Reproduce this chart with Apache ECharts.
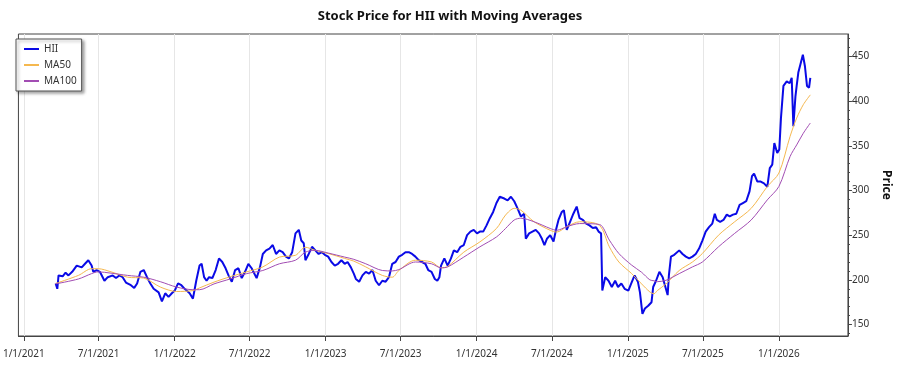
<!DOCTYPE html>
<html>
<head>
<meta charset="utf-8">
<script src="https://cdn.jsdelivr.net/npm/echarts@6/dist/echarts.min.js"></script>
<style>
  html, body { margin: 0; padding: 0; background: #fff; }
  #main { width: 900px; height: 375px; }
</style>
</head>
<body>
<div id="main"></div>
<script>
// HII close price (roughly weekly)
var priceDates = [
  '2021-03-19','2021-03-23','2021-03-26','2021-04-05','2021-04-12','2021-04-19','2021-04-28','2021-05-09','2021-05-21','2021-05-29',
  '2021-06-06','2021-06-14','2021-06-18','2021-06-26','2021-07-04','2021-07-15','2021-07-23','2021-08-04','2021-08-12','2021-08-20',
  '2021-08-28','2021-09-05','2021-09-17','2021-09-25','2021-10-02','2021-10-10','2021-10-18','2021-10-26','2021-11-03','2021-11-11',
  '2021-11-23','2021-12-01','2021-12-09','2021-12-17','2021-12-25','2022-01-01','2022-01-09','2022-01-17','2022-01-25','2022-02-06',
  '2022-02-14','2022-02-22','2022-03-02','2022-03-07','2022-03-13','2022-03-19','2022-03-25','2022-04-02','2022-04-10','2022-04-18',
  '2022-04-26','2022-05-04','2022-05-11','2022-05-19','2022-05-27','2022-06-04','2022-06-12','2022-06-20','2022-06-28','2022-07-06',
  '2022-07-18','2022-07-26','2022-08-02','2022-08-10','2022-08-18','2022-08-26','2022-09-03','2022-09-11','2022-09-19','2022-09-27',
  '2022-10-04','2022-10-12','2022-10-20','2022-10-28','2022-11-03','2022-11-09','2022-11-13','2022-11-21','2022-11-29','2022-12-07',
  '2022-12-15','2022-12-23','2022-12-30','2023-01-07','2023-01-15','2023-01-23','2023-01-31','2023-02-08','2023-02-16','2023-02-23',
  '2023-03-03','2023-03-10','2023-03-15','2023-03-23','2023-03-31','2023-04-08','2023-04-16','2023-04-24','2023-05-02','2023-05-10',
  '2023-05-18','2023-05-26','2023-06-03','2023-06-11','2023-06-19','2023-06-27','2023-07-05','2023-07-13','2023-07-21','2023-07-29',
  '2023-08-06','2023-08-14','2023-08-22','2023-08-30','2023-09-06','2023-09-14','2023-09-22','2023-09-28','2023-10-03','2023-10-07',
  '2023-10-15','2023-10-23','2023-10-31','2023-11-07','2023-11-15','2023-11-23','2023-12-01','2023-12-09','2023-12-17','2023-12-25',
  '2024-01-02','2024-01-09','2024-01-17','2024-01-25','2024-02-02','2024-02-10','2024-02-18','2024-02-26','2024-03-01','2024-03-08',
  '2024-03-16','2024-03-24','2024-04-01','2024-04-09','2024-04-17','2024-04-25','2024-04-29','2024-05-07','2024-05-15','2024-05-23',
  '2024-05-31','2024-06-07','2024-06-13','2024-06-19','2024-06-27','2024-07-05','2024-07-11','2024-07-17','2024-07-25','2024-07-30',
  '2024-08-06','2024-08-14','2024-08-22','2024-08-30','2024-09-06','2024-09-14','2024-09-22','2024-09-30','2024-10-08','2024-10-16',
  '2024-10-22','2024-10-28','2024-10-31','2024-11-07','2024-11-15','2024-11-23','2024-12-01','2024-12-08','2024-12-16','2024-12-24',
  '2025-01-02','2025-01-09','2025-01-17','2025-01-25','2025-01-30','2025-02-05','2025-02-11','2025-02-19','2025-02-27','2025-03-03',
  '2025-03-10','2025-03-18','2025-03-26','2025-04-07','2025-04-10','2025-04-15','2025-04-23','2025-05-05','2025-05-13','2025-05-21',
  '2025-05-29','2025-06-06','2025-06-14','2025-06-22','2025-06-30','2025-07-08','2025-07-16','2025-07-24','2025-07-30','2025-08-04',
  '2025-08-12','2025-08-20','2025-08-28','2025-09-04','2025-09-12','2025-09-20','2025-09-28','2025-10-06','2025-10-14','2025-10-22',
  '2025-10-28','2025-11-02','2025-11-10','2025-11-18','2025-11-26','2025-12-04','2025-12-10','2025-12-16','2025-12-21','2025-12-28',
  '2026-01-02','2026-01-06','2026-01-12','2026-01-20','2026-01-27','2026-02-01','2026-02-05','2026-02-10','2026-02-13','2026-02-17',
  '2026-02-22','2026-02-28','2026-03-05','2026-03-10','2026-03-15','2026-03-18'
];
var hiiPrice = [
  196,190,205,204,208,205,209,216,214,218,
  222,216,209,211,209,199,203,205,202,205,
  203,197,194,191,196,209,211,203,196,190,
  186,176,185,181,185,188,196,194,190,185,
  179,199,216,218,203,199,203,202,211,224,
  220,213,205,198,211,213,202,209,218,213,
  202,214,229,233,235,239,229,233,231,226,
  224,231,252,256,244,241,222,229,237,233,
  229,231,228,226,220,216,218,222,218,220,
  214,207,201,198,205,209,207,211,199,194,
  199,198,203,218,220,226,228,231,231,229,
  226,222,220,218,211,209,201,199,203,216,
  224,216,224,233,231,237,239,250,254,256,
  252,254,254,261,269,276,286,293,295,291,
  289,293,288,280,271,274,246,252,254,256,
  252,246,239,246,250,243,256,267,276,278,
  256,265,274,282,269,267,263,261,258,259,
  254,252,188,203,199,192,199,192,196,190,
  188,196,205,198,186,162,168,171,175,192,
  199,209,203,183,205,226,228,233,229,226,
  224,226,229,235,244,254,259,263,274,267,
  265,267,273,271,273,274,284,286,288,299,
  316,319,310,310,308,304,325,329,353,342,
  346,381,417,422,420,426,372,405,417,432,
  441,452,439,417,415,426
];

// moving averages (coarser steps)
var maDates = [
  '2021-03-19','2021-05-13','2021-06-14','2021-06-30','2021-07-31','2021-09-09','2021-10-18','2021-11-27','2022-01-05','2022-02-14',
  '2022-03-02','2022-04-06','2022-05-15','2022-06-24','2022-08-02','2022-09-11','2022-10-20','2022-11-13','2022-12-07','2023-01-07',
  '2023-02-16','2023-03-10','2023-04-08','2023-05-18','2023-06-11','2023-06-27','2023-08-06','2023-09-14','2023-10-07','2023-10-23',
  '2023-12-01','2024-01-09','2024-02-18','2024-03-11','2024-04-01','2024-04-17','2024-05-19','2024-06-27','2024-07-13','2024-08-06',
  '2024-09-06','2024-10-24','2024-11-17','2024-12-10','2025-01-10','2025-02-03','2025-02-23','2025-03-05','2025-03-13','2025-04-03',
  '2025-05-05','2025-06-06','2025-06-30','2025-08-08','2025-09-16','2025-10-26','2025-12-04','2026-01-01','2026-01-28','2026-02-13',
  '2026-03-01','2026-03-18'
];
var ma50 = [
  196,205,212.5,212.5,209,203,202,192,187,188,
  191,197.5,203.5,209,214.5,225.5,227.5,236.5,233,229.5,
  224,221,214.5,205,203,210.5,222,220,213.5,215,
  231,242.5,257.5,272.5,280,278,265,255.5,253.5,259.5,
  265,261,237,220,207,195.5,186.5,184.5,188,195.5,
  210.5,220,229.5,250,265,280,304.5,319.5,360.5,381,
  396,407
];
var ma100 = [
  195.5,201,207,209,207.5,205,203,198,192,189,
  189,195.5,201,207,210.5,218,222,231,233,230,
  225.5,223,218,210.5,210,211.5,220,218,213.5,214.5,
  225.5,237,248,257.5,267,269,265,257.5,255.5,259.5,
  263,262,244.5,229.5,216.5,208.5,200,199,198,199.5,
  207,214.5,220,237,252,267,289.5,304.5,338,351,
  364,375.5
];

var tickDates = ['2021-01-01','2021-07-01','2022-01-01','2022-07-01','2023-01-01','2023-07-01',
  '2024-01-01','2024-07-01','2025-01-01','2025-07-01','2026-01-01'];
var priceTicks = [150, 200, 250, 300, 350, 400, 450];
var priceMinorTicks = [140,160,170,180,190,210,220,230,240,260,270,280,290,310,320,330,340,360,370,380,390,410,420,430,440,460,470];

function toTime(s) {
  var p = s.split('-').map(Number);
  return new Date(p[0], p[1] - 1, p[2]).getTime();
}
function pairs(dates, vals) {
  return dates.map(function (d, i) { return [toTime(d), vals[i]]; });
}

var font = '"Noto Sans", "Open Sans", sans-serif';
var myChart = echarts.init(document.getElementById('main'));

var option = {
  animation: false,
  backgroundColor: '#fff',
  textStyle: { fontFamily: font },
  title: {
    text: 'Stock Price for HII with Moving Averages',
    left: 'center',
    top: 5,
    textStyle: { fontSize: 13, fontWeight: 'bold', color: '#111', fontFamily: font }
  },
  legend: {
    orient: 'vertical',
    left: 16,
    top: 39,
    padding: [4, 5, 4, 8],
    itemGap: 4,
    itemWidth: 15,
    itemHeight: 2,
    icon: 'rect',
    backgroundColor: '#fff',
    borderColor: '#555',
    borderWidth: 1,
    shadowColor: 'rgba(0,0,0,0.35)',
    shadowBlur: 3,
    shadowOffsetX: 2,
    shadowOffsetY: 2,
    textStyle: { fontSize: 10, color: '#333', lineHeight: 12, fontFamily: font },
    data: ['HII', 'MA50', 'MA100']
  },
  grid: {
    left: 12, right: 41, top: 34, bottom: 39,
    show: true,
    borderColor: '#444',
    borderWidth: 1
  },
  xAxis: {
    // value axis holding timestamps, so the ticks can sit on 1/1 and 7/1
    type: 'value',
    min: toTime('2020-12-19'),
    max: toTime('2026-06-17'),
    axisLine: { lineStyle: { color: '#444' } },
    axisTick: { show: true, length: 5, lineStyle: { color: '#444' }, customValues: tickDates.map(toTime) },
    axisLabel: {
      customValues: tickDates.map(toTime),
      margin: 13,
      fontSize: 10,
      color: '#333',
      formatter: function (v) {
        var d = new Date(v);
        return (d.getMonth() + 1) + '/' + d.getDate() + '/' + d.getFullYear();
      }
    },
    splitLine: { show: true, lineStyle: { color: '#e6e6e6', width: 1 } }
  },
  yAxis: [
    {
      type: 'value',
      position: 'right',
      min: 137.2,
      max: 475.1,
      name: 'Price',
      nameLocation: 'middle',
      nameGap: 22,
      nameRotate: -90,
      nameTextStyle: { fontSize: 12, fontWeight: 'bold', color: '#111' },
      axisLine: { show: true, lineStyle: { color: '#444' } },
      axisTick: { show: true, length: 4, lineStyle: { color: '#444' }, customValues: priceTicks },
      axisLabel: { customValues: priceTicks, fontSize: 10, color: '#333', margin: 4 },
      splitLine: { show: false }
    },
    {
      type: 'value',
      position: 'right',
      min: 137.2,
      max: 475.1,
      axisLine: { show: false },
      axisTick: { show: true, length: 2, lineStyle: { color: '#444' }, customValues: priceMinorTicks },
      axisLabel: { show: false },
      splitLine: { show: false }
    }
  ],
  series: [
    {
      name: 'HII',
      type: 'line',
      showSymbol: false,
      data: pairs(priceDates, hiiPrice),
      lineStyle: { color: '#0a0ae6', width: 2 },
      itemStyle: { color: '#0a0ae6' }
    },
    {
      name: 'MA50',
      type: 'line',
      showSymbol: false,
      smooth: 0.3,
      data: pairs(maDates, ma50),
      lineStyle: { color: '#f5b84f', width: 1 },
      itemStyle: { color: '#f5b84f' }
    },
    {
      name: 'MA100',
      type: 'line',
      showSymbol: false,
      smooth: 0.3,
      data: pairs(maDates, ma100),
      lineStyle: { color: '#a24db3', width: 1 },
      itemStyle: { color: '#a24db3' }
    }
  ]
};

myChart.setOption(option, true);
</script>
</body>
</html>
